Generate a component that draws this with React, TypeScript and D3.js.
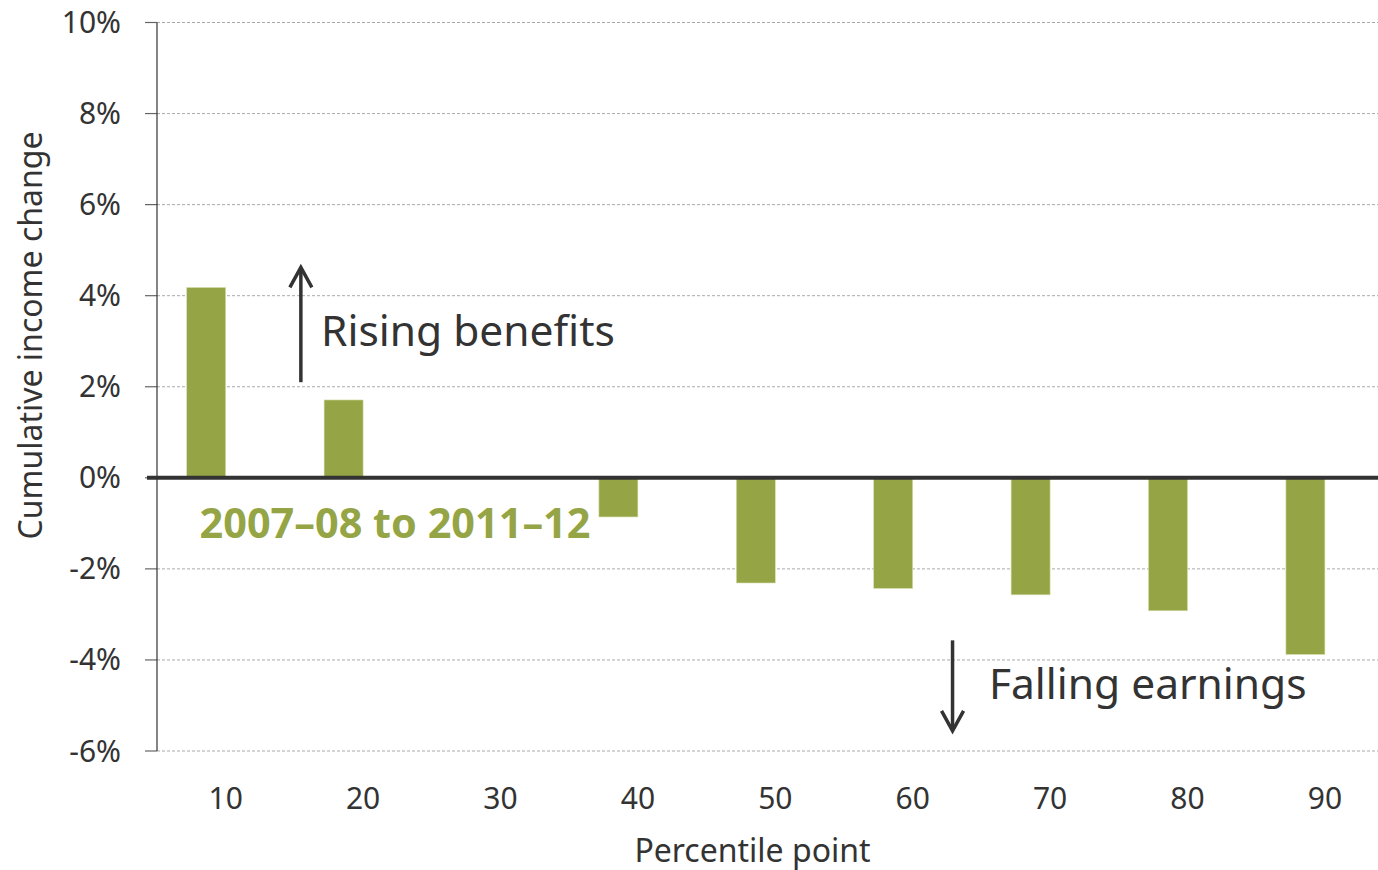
import React from "react";
import * as d3 from "d3";

const categories = ["10", "20", "30", "40", "50", "60", "70", "80", "90"];
const values = [4.18, 1.71, 0, -0.86, -2.31, -2.43, -2.57, -2.92, -3.88];
const yTicks = [-6, -4, -2, 0, 2, 4, 6, 8, 10];
const seriesLabel = "2007–08 to 2011–12";
const annotations = [
  { text: "Rising benefits", pct: 16.94, val: 2.89 },
  { text: "Falling earnings", pct: 65.55, val: -4.86 },
];
const arrows = [
  { pct: 15.47, from: 2.1, to: 4.62 },
  { pct: 62.9, from: -3.57, to: -5.56 },
];

const W = 1378;
const H = 870;
const FONT = "'Noto Sans', 'Open Sans', sans-serif";
const GREEN = "#95a545";
const DARK = "#333333";

export default function App() {
  const left = 157;
  const step = 137.4;
  const x = d3
    .scaleBand<string>()
    .domain(categories)
    .range([left, left + step * categories.length])
    .paddingInner(0)
    .paddingOuter(0);
  const y = d3.scaleLinear().domain([-6, 10]).range([751, 22.5]);
  const barW = 39;
  const center = (c: string) => (x(c) as number) + x.bandwidth() / 2;
  const xp = d3
    .scaleLinear()
    .domain([10, 90])
    .range([center("10"), center("90")]);

  return (
    <svg
      width={W}
      height={H}
      style={{ position: "absolute", left: 0, top: 0, background: "#fff" }}
      fontFamily={FONT}
    >
      {yTicks.map((t) => (
        <line
          key={"g" + t}
          x1={left}
          x2={W}
          y1={y(t)}
          y2={y(t)}
          stroke="#aaaaaa"
          strokeWidth={1}
          strokeDasharray="3,2"
        />
      ))}
      {yTicks.map((t) => (
        <g key={"t" + t}>
          <line x1={145} x2={left} y1={y(t)} y2={y(t)} stroke="#666" strokeWidth={1.2} />
          <text
            x={121}
            y={y(t)}
            dy="0.35em"
            textAnchor="end"
            fontSize={30}
            fill={DARK}
          >
            {t}%
          </text>
        </g>
      ))}
      <line x1={left} x2={left} y1={y(10)} y2={y(-6)} stroke={DARK} strokeWidth={1.2} />
      {categories.map((c, i) => {
        const v = values[i];
        if (v === 0) return null;
        const y0 = y(0);
        const y1 = y(v);
        return (
          <rect
            key={c}
            x={center(c) - barW}
            y={Math.min(y0, y1)}
            width={barW}
            height={Math.abs(y1 - y0)}
            fill={GREEN}
            stroke="#d6e0b0"
            strokeWidth={0.6}
          />
        );
      })}
      <line x1={147} x2={W} y1={y(0)} y2={y(0)} stroke={DARK} strokeWidth={4} />
      {categories.map((c) => (
        <text
          key={"x" + c}
          x={center(c)}
          y={809}
          textAnchor="middle"
          fontSize={30}
          fill={DARK}
        >
          {c}
        </text>
      ))}
      <text x={752.5} y={862} textAnchor="middle" fontSize={32} fill={DARK}>
        Percentile point
      </text>
      <text
        transform={`translate(42, 335.5) rotate(-90)`}
        textAnchor="middle"
        fontSize={32}
        fill={DARK}
      >
        Cumulative income change
      </text>
      <text
        x={xp(8.1)}
        y={y(-1.33)}
        fontSize={41.4}
        fontWeight="bold"
        fill={GREEN}
      >
        {seriesLabel}
      </text>
      {annotations.map((a) => (
        <text key={a.text} x={xp(a.pct)} y={y(a.val)} fontSize={42.5} fill={DARK}>
          {a.text}
        </text>
      ))}
      {arrows.map((a, i) => {
        const ax = xp(a.pct);
        const y1 = y(a.from);
        const y2 = y(a.to);
        const dir = y2 < y1 ? 1 : -1;
        return (
          <g key={"a" + i} stroke={DARK} strokeWidth={3.5} fill="none">
            <line x1={ax} x2={ax} y1={y1} y2={y2 + dir * 1.5} />
            <polyline
              points={`${ax - 11},${y2 + dir * 20} ${ax},${y2} ${ax + 11},${y2 + dir * 20}`}
              strokeLinejoin="miter"
            />
          </g>
        );
      })}
    </svg>
  );
}
